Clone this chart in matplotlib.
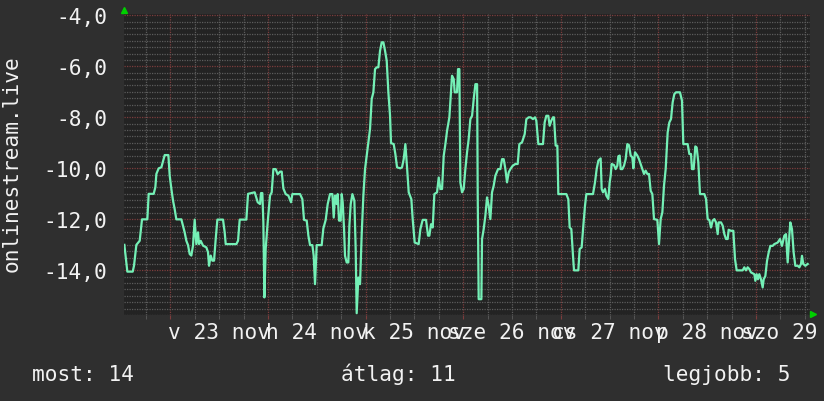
import matplotlib
matplotlib.use("Agg")
import matplotlib.pyplot as plt
from matplotlib.ticker import MultipleLocator, NullFormatter

# hours since 23 nov 00:00, and measured value
hours = [-11.3, -10.57, -9.25, -8.93, -8.35, -7.53, -6.96, -5.65, -5.32, -4.09, -3.68, -3.43, -2.86, -2.2, -1.38,
         -0.48, -0.15, 0.26, 0.67, 1.07, 1.48, 2.71, 3.12, 3.53, 3.94, 4.35, 4.76, 5.17, 5.58, 5.99, 6.4, 6.81,
         7.06, 7.47, 8.04, 8.86, 9.27, 9.52, 9.93, 10.34, 10.75, 11.16, 11.57, 12.96, 13.37, 13.62, 16.24, 16.65,
         17.06, 18.7, 19.11, 20.75,
         21.49, 22.06, 22.3, 22.63, 22.88, 23.13, 23.45, 23.94, 24.52, 24.93, 25.34, 25.91, 26.4, 26.98, 27.39,
         27.8, 28.37, 29.03, 29.68, 30.01, 31.9, 32.47, 32.88, 33.54, 33.95, 34.36, 34.93, 35.26, 35.58, 35.99,
         37.22, 37.63, 38.21, 38.7, 39.27, 39.85, 40.18, 40.5, 40.91, 41.16, 41.49, 41.9, 42.14, 42.39, 42.72,
         42.96, 43.37, 43.78, 44.03, 44.36, 44.77, 45.26, 45.58, 45.83, 46.24, 46.65, 47.06, 47.47, 47.88, 48.29,
         48.7, 49.11, 49.52, 49.93, 50.34, 50.75, 51.16, 51.57, 51.98, 52.39, 52.8, 53.21, 53.62, 54.03, 54.27,
         54.93, 55.34, 55.75, 56.57, 56.98, 57.39, 57.8, 58.21, 58.62, 59.27, 59.6, 60.09, 61.07, 61.49, 62.06,
         62.88, 63.37, 63.7, 64.11, 64.52, 64.93, 65.59, 66.0, 66.41, 66.82, 67.23, 67.64, 68.05, 68.62, 68.86,
         69.27, 69.69, 69.93, 70.5, 70.75, 71.08, 71.32, 71.73, 72.14, 72.55, 72.96, 73.37, 73.78, 74.2, 74.61,
         75.02, 75.44, 75.59, 75.83, 76.49, 76.65, 77.06, 77.47, 77.88, 78.29, 78.7, 79.11, 79.52, 79.93, 80.59,
         81.16, 81.57, 81.98, 82.39, 82.8, 83.21, 83.62, 84.19, 84.85, 85.42, 85.83, 86.49, 87.14, 87.55, 88.13,
         88.61, 89.18, 89.68, 90.0, 90.5, 91.64, 92.05, 92.46, 92.95, 93.28, 93.69, 94.1, 94.35, 94.76, 95.17,
         95.41, 97.38, 97.87, 98.2, 98.61, 99.02, 99.27, 100.33, 100.66, 101.15, 101.56, 101.97, 102.3, 103.94,
         104.43, 104.84, 105.25, 105.82, 106.07, 106.4, 106.89, 107.22, 107.71, 108.04, 108.28, 108.53, 109.1,
         109.51, 109.92, 110.17, 110.5, 110.74, 111.15, 111.56, 111.97, 112.38, 112.79, 113.2, 113.61, 113.86,
         114.27, 114.84, 115.25, 115.66, 116.07, 116.48, 116.89, 117.3, 117.71, 118.12, 118.53, 118.94, 119.76,
         120.17, 120.58, 120.99, 121.4, 121.81,
         122.3, 122.71, 123.12, 123.53, 123.94, 124.35, 125.33, 125.82, 126.15, 127.22, 127.63, 128.04, 128.28,
         128.69, 129.1, 129.43, 129.84, 130.25, 131.32, 131.73, 132.14, 132.55, 132.96, 133.37, 133.78, 134.19,
         134.6, 134.84, 135.42, 135.83, 136.24, 136.65, 137.06, 137.3, 137.88, 138.45, 138.86, 139.27, 140.74,
         141.15, 141.56, 141.97, 142.38, 142.79, 143.61, 143.86, 144.19, 144.51, 144.84, 145.25, 145.66, 145.91,
         146.32, 146.73, 147.14, 147.55, 148.12, 148.53, 149.35, 149.92, 150.41, 150.99, 151.4, 151.81, 152.22,
         152.46, 152.87, 153.28, 153.69, 154.27, 154.68, 155.09, 155.33, 155.66, 156.15, 156.73]

values = [-13.0, -14.05, -14.05, -13.82, -13.0, -12.84, -12.0, -12.0, -11.0, -11.0, -10.74, -10.22, -10.0, -9.96,
          -9.48, -9.48, -10.29, -10.81, -11.27, -11.6, -12.0, -12.0, -12.25, -12.51, -12.84, -13.01, -13.36, -13.42,
          -13.03, -12.01, -12.97, -12.51, -12.97, -12.84, -13.03, -13.1, -13.29, -13.82, -13.42, -13.62, -13.62,
          -12.77, -12.01, -12.01, -12.51, -12.97, -12.97, -12.84, -12.01, -12.01, -11.0, -10.94,
          -11.33, -11.4, -10.97, -10.97, -12.12, -15.06, -13.16, -12.12, -11.07, -10.94, -10.03, -10.03, -10.23,
          -10.13, -10.13, -10.79, -11.01, -11.07, -11.33, -11.01, -11.01, -11.21, -12.02, -12.05, -12.64, -13.01,
          -13.01, -13.43, -14.54, -13.01, -13.01, -12.36, -12.02, -11.4, -11.01, -11.01, -11.93, -11.07, -11.4,
          -11.01, -12.05, -12.05, -11.01, -11.33, -12.38, -13.43, -13.69, -13.69, -12.25, -11.4, -11.01, -11.27,
          -13.16, -15.68, -14.28, -14.54, -12.58, -11.07, -10.03, -9.51, -8.98, -8.46, -7.28, -7.02, -6.11, -6.04,
          -6.04, -5.39, -5.06, -5.06, -5.39, -5.78, -7.02, -7.94, -9.01,
          -9.05, -9.44, -9.96, -10.0, -9.96, -9.64, -9.05, -9.96, -10.94, -11.21, -11.99, -12.91, -12.97, -12.38,
          -12.02, -12.02, -12.64, -12.64, -12.19, -12.32, -11.01, -10.94, -10.36, -10.81, -10.81, -9.51, -9.05,
          -8.53, -8.0, -7.42, -6.37, -6.5, -7.02, -7.02, -6.11, -6.11, -10.55, -10.94, -10.81, -10.03, -9.38, -8.85,
          -8.07, -7.94, -7.28, -6.7, -6.7, -11.07, -15.13, -15.13, -12.78, -12.38, -11.86, -11.14, -11.47, -11.99,
          -10.94, -10.68, -10.29, -10.03, -10.03, -9.64, -9.64, -10.03, -10.55, -10.16, -10.03, -9.9, -9.83, -9.83,
          -9.05, -8.98, -8.66, -8.07, -8.0,
          -8.0, -8.07, -8.0, -8.13, -9.05, -9.05, -8.2, -7.94, -7.94, -8.33, -8.13, -8.0, -8.0, -9.11, -9.11,
          -11.01, -11.01, -11.21, -12.32, -12.38, -13.43, -14.0, -14.0, -13.16, -13.1, -12.25, -11.47, -11.01,
          -11.01, -10.55, -10.03, -9.7, -9.61, -10.81, -10.94, -10.81, -11.07, -11.2, -10.55, -10.29, -9.83, -9.87,
          -10.03, -9.9, -9.53, -9.5, -10.03, -10.03, -9.9, -9.64, -9.05, -9.09, -9.5, -9.57, -10.0, -9.37, -9.5,
          -9.64, -9.83, -10.03, -10.22, -10.09, -10.22, -10.22, -10.88, -11.01, -11.99, -12.02, -12.97, -11.99,
          -11.73, -10.68, -10.03,
          -8.59, -8.2, -8.07, -7.41, -7.09, -7.02, -7.02, -7.35, -9.05, -9.05, -9.44, -9.44, -10.03, -10.03, -9.14,
          -9.18, -9.77, -11.01, -11.01, -11.2, -11.99, -12.03, -12.32, -12.05, -11.99, -12.12, -12.58, -12.12,
          -12.12, -12.25, -12.58, -12.77, -12.77, -12.41, -12.45, -12.45, -13.56, -14.0, -14.0, -13.88, -14.0,
          -13.88, -13.95, -14.08, -14.15, -14.41, -14.15, -14.35, -14.15, -14.35, -14.67, -14.35, -14.22, -13.63,
          -13.3, -13.04, -13.04, -12.97, -12.91, -12.77, -13.04, -12.64, -12.58, -13.69, -12.64, -12.12, -12.38,
          -13.3, -13.82, -13.82, -13.88, -13.75, -13.43, -13.75, -13.82, -13.75]

day_labels = ["v 23 nov", "h 24 nov", "k 25 nov", "sze 26 nov", "cs 27 nov", "p 28 nov", "szo 29 nov"]
ytick_vals = [-14, -12, -10, -8, -6, -4]
ytick_labels = ["-14,0", "-12,0", "-10,0", "-8,0", "-6,0", "-4,0"]
ylabel = "onlinestream.live"
footer = ["most: 14", "átlag: 11", "legjobb: 5"]

bg = "#2f2f2f"
canvas = "#232323"
fg = "#f2f2f2"
fs = 15.2
plt.rcParams["font.family"] = ["DejaVu Sans Mono"]

fig = plt.figure(figsize=(8.24, 4.02), dpi=100, facecolor=bg)
ax = fig.add_axes([124 / 824, 86 / 402, 686 / 824, 301.5 / 402], facecolor=canvas)

ax.xaxis.set_major_locator(MultipleLocator(24))
ax.xaxis.set_minor_locator(MultipleLocator(6))
ax.yaxis.set_major_locator(MultipleLocator(2))
ax.yaxis.set_minor_locator(MultipleLocator(0.25))
ax.grid(which="major", color="#7c3c3c", linestyle=(0, (1, 1)), linewidth=0.9)
ax.grid(which="minor", color="#5c5c5c", linestyle=(0, (1, 1)), linewidth=0.9)
ax.set_axisbelow(True)

ax.plot(hours, values, color="#74f0b6", linewidth=1.6, zorder=3)

ax.set_xlim(-11.39, 157.3)
ax.set_ylim(-15.75, -3.93)

ax.set_yticks(ytick_vals)
ax.set_yticklabels(ytick_labels)
ax.tick_params(axis="y", which="both", length=0, pad=12, labelsize=fs, labelcolor=fg)
ax.xaxis.set_major_formatter(NullFormatter())
ax.tick_params(axis="x", which="major", length=3, color="#7c3c3c", direction="out")
ax.tick_params(axis="x", which="minor", length=3, color="#5c5c5c", direction="out")
for s in ax.spines.values():
    s.set_visible(False)

# day labels centred at noon
for i, lab in enumerate(day_labels):
    ax.annotate(lab, xy=(12 + 24 * i, 0), xycoords=("data", "axes fraction"),
                xytext=(0, -16.3), textcoords="offset points",
                ha="center", va="baseline", color=fg, fontsize=fs, annotation_clip=False)

# little green arrows at axis ends
ax.plot([0], [1.012], marker="^", color="#00d000", markersize=4, transform=ax.transAxes, clip_on=False)
ax.plot([1.004], [0.003], marker=">", color="#00d000", markersize=4, transform=ax.transAxes, clip_on=False)

fig.text(12 / 824, 1 - 164 / 402, ylabel, rotation=90, ha="center", va="center", color=fg, fontsize=fs)

fig.text(32 / 824, 1 - 381 / 402, footer[0], ha="left", va="baseline", color=fg, fontsize=fs)
fig.text(341 / 824, 1 - 381 / 402, footer[1], ha="left", va="baseline", color=fg, fontsize=fs)
fig.text(663 / 824, 1 - 381 / 402, footer[2], ha="left", va="baseline", color=fg, fontsize=fs)

fig.savefig("out.png", dpi=100, facecolor=bg)
